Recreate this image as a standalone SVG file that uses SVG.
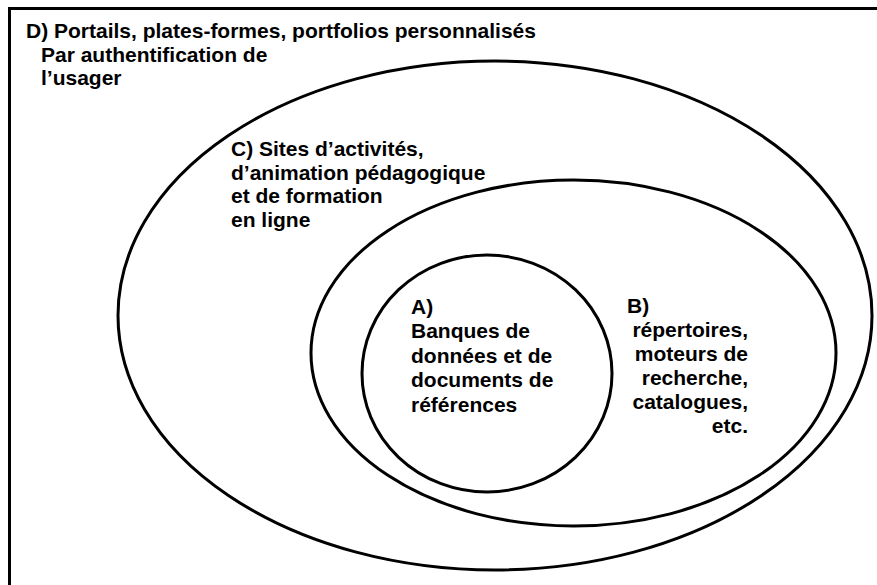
<svg xmlns="http://www.w3.org/2000/svg" width="877" height="585" viewBox="0 0 877 585">
<style>
.shape{fill:none;stroke:#000;stroke-width:3}
.frame{stroke:#000;stroke-width:3;fill:none}
.t{font-family:"Liberation Sans",Arial,sans-serif;font-size:21px;font-weight:bold;fill:#000}
.end{text-anchor:end}
</style>
<rect x="0" y="0" width="877" height="585" fill="#fff"/>
<g id="connectors"></g>
<g id="D">
<path class="frame" d="M9.5,585 V8.5 H877"/>
<text class="t" x="26" y="38">D) Portails, plates-formes, portfolios personnalisés</text>
<text class="t" x="41" y="62">Par authentification de</text>
<text class="t" x="41" y="85">l’usager</text>
</g>
<g id="C">
<ellipse class="shape" cx="495" cy="315.5" rx="377" ry="254.5"/>
<text class="t" x="231" y="156">C) Sites d’activités,</text>
<text class="t" x="231" y="179.5">d’animation pédagogique</text>
<text class="t" x="231" y="203">et de formation</text>
<text class="t" x="231" y="227">en ligne</text>
</g>
<g id="B">
<ellipse class="shape" cx="573.5" cy="353" rx="262.5" ry="173"/>
<text class="t" x="627" y="313">B)</text>
<text class="t end" x="748" y="337">répertoires,</text>
<text class="t end" x="748" y="361">moteurs de</text>
<text class="t end" x="748" y="385">recherche,</text>
<text class="t end" x="748" y="409">catalogues,</text>
<text class="t end" x="748" y="433">etc.</text>
</g>
<g id="A">
<ellipse class="shape" cx="487" cy="373.5" rx="125" ry="118.5"/>
<text class="t" x="411" y="313.5">A)</text>
<text class="t" x="411" y="338">Banques de</text>
<text class="t" x="411" y="362.5">données et de</text>
<text class="t" x="411" y="387">documents de</text>
<text class="t" x="411" y="412">références</text>
</g>
</svg>
